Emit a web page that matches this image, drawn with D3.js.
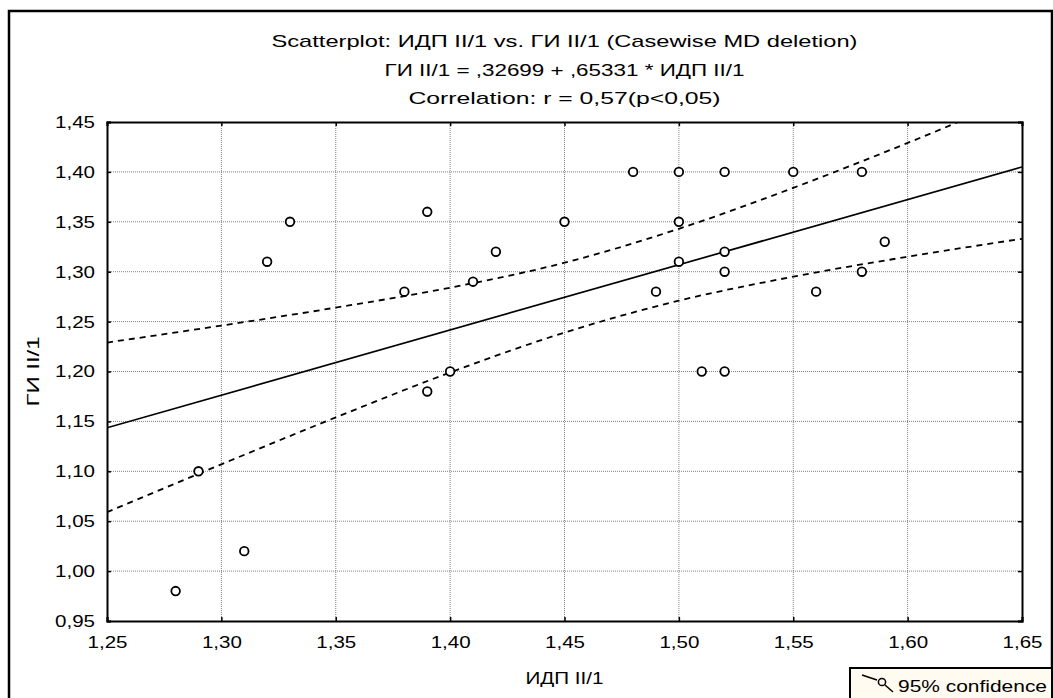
<!DOCTYPE html>
<html lang="en">
<head>
	<title>Scatterplot</title>
	<script src="https://d3js.org/d3.v7.min.js" charset="utf-8"></script>
	<meta charset='utf-8'>
	<style>
	body { margin: 0; background: #fff; }
	text { font-family: "Liberation Sans", Arial, sans-serif; fill: #000; }
	.grid line { stroke: #808080; stroke-dasharray: 1,1; }
	</style>
</head>
<body>
	<script>
	// values
	var xVals = [1.28, 1.29, 1.31, 1.32, 1.33, 1.38, 1.39, 1.39, 1.40, 1.41, 1.42, 1.45, 1.48, 1.49,
		1.50, 1.50, 1.50, 1.51, 1.52, 1.52, 1.52, 1.52, 1.55, 1.56, 1.58, 1.58, 1.59];
	var yVals = [0.98, 1.10, 1.02, 1.31, 1.35, 1.28, 1.36, 1.18, 1.20, 1.29, 1.32, 1.35, 1.40, 1.28,
		1.40, 1.35, 1.31, 1.20, 1.40, 1.32, 1.30, 1.20, 1.40, 1.28, 1.40, 1.30, 1.33];

	var intercept = 0.32699;
	var slope = 0.65331;

	var bandX = [1.25, 1.30, 1.35, 1.40, 1.45, 1.50, 1.55, 1.60, 1.65];
	var bandUpper = [1.229, 1.246, 1.264, 1.284, 1.309, 1.343, 1.384, 1.429, 1.477];
	var bandLower = [1.059, 1.107, 1.154, 1.199, 1.239, 1.271, 1.295, 1.315, 1.333];

	var xTicks = [1.25, 1.30, 1.35, 1.40, 1.45, 1.50, 1.55, 1.60, 1.65];
	var yTicks = [0.95, 1.00, 1.05, 1.10, 1.15, 1.20, 1.25, 1.30, 1.35, 1.40, 1.45];

	var titleLines = [
		"Scatterplot: ИДП II/1 vs. ГИ II/1 (Casewise MD deletion)",
		"ГИ II/1 = ,32699 + ,65331 * ИДП II/1",
		"Correlation: r = 0,57(p<0,05)"
	];
	var titleWidths = [586, 360, 312];

	var width = 1053;
	var height = 698;
	var pLeft = 107, pRight = 1022, pTop = 122, pBottom = 621;

	var fmt = function(d) { return d3.format(".2f")(d).replace(".", ","); };

	var svg = d3.select('body')
	.append('svg')
	.attr('width', width)
	.attr('height', height);

	// outer frame
	svg.append('rect')
	.attr('x', 9).attr('y', 11)
	.attr('width', 1043).attr('height', 720)
	.attr('fill', 'none')
	.attr('stroke', '#000')
	.attr('stroke-width', 2.5);

	var x = d3.scaleLinear().domain([1.25, 1.65]).range([pLeft, pRight]);
	var y = d3.scaleLinear().domain([0.95, 1.45]).range([pBottom, pTop]);

	// titles
	svg.selectAll('.title')
	.data(titleLines)
	.enter()
	.append('text')
	.attr('class', 'title')
	.attr('x', (pLeft + pRight) / 2)
	.attr('y', function(d, i) { return 47 + i * 28.5; })
	.attr('text-anchor', 'middle')
	.attr('textLength', function(d, i) { return titleWidths[i]; })
	.attr('lengthAdjust', 'spacingAndGlyphs')
	.style('font-size', '17px')
	.text(function(d) { return d; });

	// grid
	var grid = svg.append('g').attr('class', 'grid');
	grid.selectAll('.gx')
	.data(xTicks.slice(1, -1))
	.enter()
	.append('line')
	.attr('x1', function(d) { return x(d); })
	.attr('x2', function(d) { return x(d); })
	.attr('y1', pTop).attr('y2', pBottom);
	grid.selectAll('.gy')
	.data(yTicks.slice(1, -1))
	.enter()
	.append('line')
	.attr('y1', function(d) { return y(d); })
	.attr('y2', function(d) { return y(d); })
	.attr('x1', pLeft).attr('x2', pRight);

	// axes: ticks point inward
	var axisB = svg.append('g').attr('transform', 'translate(0,' + pBottom + ')')
	.call(d3.axisBottom(x).tickValues(xTicks).tickSize(-4).tickPadding(12).tickFormat(fmt));
	var axisL = svg.append('g').attr('transform', 'translate(' + pLeft + ',0)')
	.call(d3.axisLeft(y).tickValues(yTicks).tickSize(-4).tickPadding(12).tickFormat(fmt));
	svg.append('g').attr('transform', 'translate(0,' + pTop + ')')
	.call(d3.axisTop(x).tickValues(xTicks).tickSize(-4).tickFormat(''));
	svg.append('g').attr('transform', 'translate(' + pRight + ',0)')
	.call(d3.axisRight(y).tickValues(yTicks).tickSize(-4).tickFormat(''));

	svg.selectAll('.domain').attr('stroke', '#000').attr('stroke-width', 2);
	svg.selectAll('.tick line').attr('stroke', '#000').attr('stroke-width', 1.5);
	svg.selectAll('.tick text')
	.style('font-size', '17px')
	.style('font-family', '"Liberation Sans", Arial, sans-serif')
	.attr('fill', '#000')
	.attr('textLength', 40)
	.attr('lengthAdjust', 'spacingAndGlyphs');
	axisB.selectAll('.tick text').attr('dy', '0.9em');

	// axis labels
	svg.append('text')
	.attr('x', (pLeft + pRight) / 2)
	.attr('y', 684)
	.attr('text-anchor', 'middle')
	.attr('textLength', 78)
	.attr('lengthAdjust', 'spacingAndGlyphs')
	.style('font-size', '17px')
	.text('ИДП II/1');
	svg.append('text')
	.attr('transform', 'translate(39,' + (pTop + pBottom) / 2 + ') rotate(-90)')
	.attr('text-anchor', 'middle')
	.attr('textLength', 70)
	.attr('lengthAdjust', 'spacingAndGlyphs')
	.style('font-size', '17px')
	.text('ГИ II/1');

	// clip for lines
	svg.append('clipPath').attr('id', 'plot')
	.append('rect')
	.attr('x', pLeft).attr('y', pTop)
	.attr('width', pRight - pLeft).attr('height', pBottom - pTop);

	var lines = svg.append('g').attr('clip-path', 'url(#plot)');

	lines.append('line')
	.attr('x1', x(1.25)).attr('y1', y(intercept + slope * 1.25))
	.attr('x2', x(1.65)).attr('y2', y(intercept + slope * 1.65))
	.attr('stroke', '#000')
	.attr('stroke-width', 1.7);

	var band = d3.line()
	.x(function(d) { return x(d[0]); })
	.y(function(d) { return y(d[1]); })
	.curve(d3.curveMonotoneX);

	[bandUpper, bandLower].forEach(function(vals) {
		lines.append('path')
		.attr('d', band(d3.zip(bandX, vals)))
		.attr('fill', 'none')
		.attr('stroke', '#000')
		.attr('stroke-width', 1.8)
		.attr('stroke-dasharray', '6,5');
	});

	// points
	svg.append('g').selectAll('circle')
	.data(d3.zip(xVals, yVals))
	.enter()
	.append('circle')
	.attr('cx', function(d) { return x(d[0]); })
	.attr('cy', function(d) { return y(d[1]); })
	.attr('r', 4.3)
	.attr('fill', '#fff')
	.attr('stroke', '#000')
	.attr('stroke-width', 1.8);

	// legend
	var legend = svg.append('g');
	legend.append('rect')
	.attr('x', 850).attr('y', 668)
	.attr('width', 202).attr('height', 40)
	.attr('fill', '#fffbf0')
	.attr('stroke', '#000')
	.attr('stroke-width', 2);
	legend.append('line')
	.attr('x1', 862).attr('y1', 675).attr('x2', 877).attr('y2', 680)
	.attr('stroke', '#000').attr('stroke-width', 1.5);
	legend.append('line')
	.attr('x1', 885).attr('y1', 685).attr('x2', 893).attr('y2', 692)
	.attr('stroke', '#000').attr('stroke-width', 1.5);
	legend.append('circle')
	.attr('cx', 882).attr('cy', 682).attr('r', 3.6)
	.attr('fill', 'none').attr('stroke', '#000').attr('stroke-width', 1.5);
	legend.append('text')
	.attr('x', 898).attr('y', 692)
	.attr('textLength', 149)
	.attr('lengthAdjust', 'spacingAndGlyphs')
	.style('font-size', '17px')
	.text('95% confidence');
	</script>
</body>
</html>
